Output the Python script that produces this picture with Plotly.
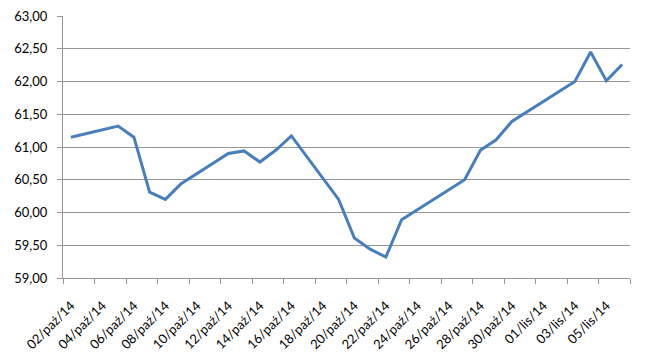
import pandas as pd
import plotly.graph_objects as go

dates = ["2014-10-02", "2014-10-05", "2014-10-06", "2014-10-07", "2014-10-08", "2014-10-09",
         "2014-10-12", "2014-10-13", "2014-10-14", "2014-10-15", "2014-10-16", "2014-10-19",
         "2014-10-20", "2014-10-21", "2014-10-22", "2014-10-23", "2014-10-27", "2014-10-28",
         "2014-10-29", "2014-10-30", "2014-11-03", "2014-11-04", "2014-11-05", "2014-11-06"]
values = [61.15, 61.32, 61.15, 60.31, 60.20, 60.44,
          60.90, 60.94, 60.77, 60.95, 61.17, 60.20,
          59.61, 59.44, 59.32, 59.89, 60.50, 60.95,
          61.11, 61.39, 62.00, 62.45, 62.01, 62.26]
tick_labels = ["02/paź/14", "04/paź/14", "06/paź/14", "08/paź/14", "10/paź/14", "12/paź/14",
               "14/paź/14", "16/paź/14", "18/paź/14", "20/paź/14", "22/paź/14", "24/paź/14",
               "26/paź/14", "28/paź/14", "30/paź/14", "01/lis/14", "03/lis/14", "05/lis/14"]

start = pd.Timestamp("2014-10-02")
end = pd.Timestamp("2014-11-07")
n_days = (end - start).days
x = [(pd.Timestamp(d) - start).days + 0.5 for d in dates]
label_pos = [i * 2 + 0.5 for i in range(len(tick_labels))]
boundaries = list(range(0, n_days + 1, 2))

grid = "#969696"
font = dict(family="Lato, Carlito, Liberation Sans", size=13, color="#000000")

fig = go.Figure(go.Scatter(x=x, y=values, mode="lines",
                           line=dict(color="#4a7ebb", width=3), hoverinfo="skip"))

fig.update_layout(
    width=650, height=364,
    margin=dict(l=63, r=20, t=16, b=86, autoexpand=False),
    paper_bgcolor="white", plot_bgcolor="white",
    separators=", ",
    showlegend=False,
    font=font,
)
fig.update_xaxes(
    range=[0, n_days], showgrid=False, zeroline=False,
    showline=True, linecolor=grid, linewidth=1,
    tickmode="array", tickvals=label_pos, ticktext=tick_labels,
    ticks="outside", ticklen=14, tickcolor="rgba(0,0,0,0)",
    tickangle=-45, tickfont=font, automargin=False,
    minor=dict(tickmode="array", tickvals=boundaries, ticks="outside",
               ticklen=5, tickcolor=grid, showgrid=False),
)
fig.update_yaxes(
    range=[59, 63], dtick=0.5, tick0=59, tickformat=".2f",
    showgrid=True, gridcolor=grid, gridwidth=1, zeroline=False,
    showline=True, linecolor=grid, linewidth=1,
    ticks="outside", ticklen=5, tickcolor=grid, tickfont=font,
    ticklabelstandoff=7, automargin=False,
)

fig.write_html("out.html")
